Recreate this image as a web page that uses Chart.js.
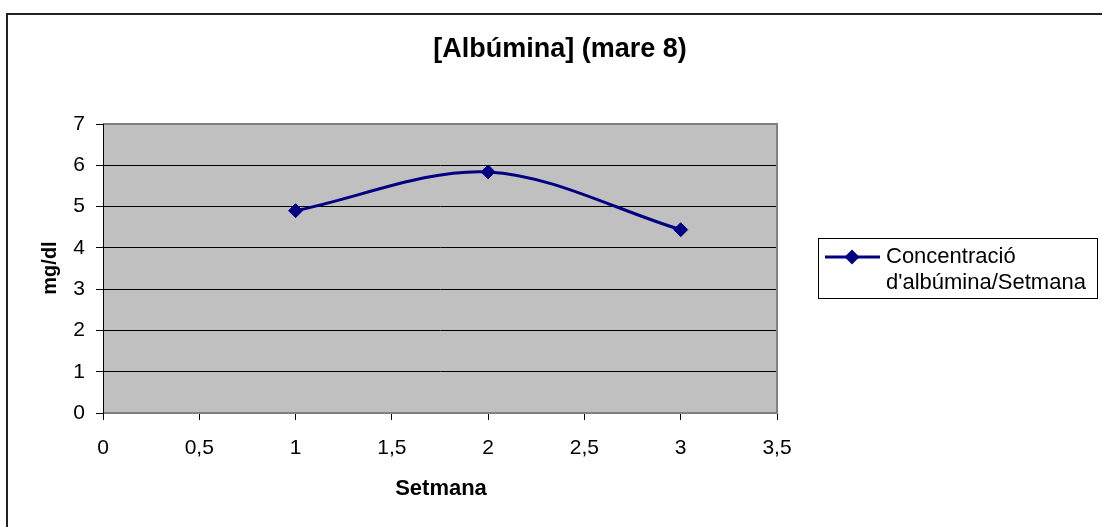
<!DOCTYPE html>
<html>
<head>
<meta charset="utf-8">
<script src="https://cdn.jsdelivr.net/npm/chart.js@4/dist/chart.umd.min.js"></script>
<style>
  html, body { margin: 0; padding: 0; background: #ffffff; }
  #wrap { width: 1102px; height: 527px; }
</style>
</head>
<body>
<div id="wrap"><canvas id="chart" width="1102" height="527"></canvas></div>
<script>
// Albumin concentration per week
const chartTitle = '[Albúmina] (mare 8)';
const seriesName = ['Concentració', "d'albúmina/Setmana"];
const xAxisTitle = 'Setmana';
const yAxisTitle = 'mg/dl';
const weeks = [1, 2, 3];
const albumin = [4.9, 5.84, 4.44];
const xRange = [0, 3.5];
const xStep = 0.5;
const yRange = [0, 7];
const yStep = 1;

const FONT = '"Liberation Sans", Arial, sans-serif';
const NAVY = '#000080';

const points = weeks.map((w, i) => ({ x: w, y: albumin[i] }));
const decimalComma = v => String(v).replace('.', ',');

// Gray plot background, plot frame, titles, legend and outer frame
const decor = {
  id: 'decor',
  beforeDraw(chart) {
    const { ctx, chartArea: a } = chart;
    ctx.save();
    ctx.fillStyle = '#ffffff';
    ctx.fillRect(0, 0, chart.width, chart.height);
    ctx.fillStyle = '#c0c0c0';
    ctx.fillRect(a.left, a.top, a.right - a.left, a.bottom - a.top);
    ctx.restore();
  },
  beforeDatasetsDraw(chart) {
    const { ctx, chartArea: a } = chart;
    ctx.save();
    ctx.strokeStyle = '#808080';
    ctx.lineWidth = 2;
    ctx.beginPath();
    ctx.moveTo(a.left, a.top);
    ctx.lineTo(a.right, a.top);
    ctx.lineTo(a.right, a.bottom);
    ctx.lineTo(a.left, a.bottom);
    ctx.stroke();
    ctx.strokeStyle = '#000000';
    ctx.lineWidth = 1;
    ctx.beginPath();
    ctx.moveTo(a.left + 0.5, a.top);
    ctx.lineTo(a.left + 0.5, a.bottom + 7);
    ctx.stroke();
    ctx.restore();
  },
  afterDraw(chart) {
    const { ctx } = chart;
    ctx.save();
    // outer frame
    ctx.strokeStyle = '#222222';
    ctx.lineWidth = 2;
    ctx.strokeRect(7, 14, 1200, 600);

    // chart title
    ctx.fillStyle = '#000000';
    ctx.textAlign = 'center';
    ctx.textBaseline = 'alphabetic';
    ctx.font = 'bold 27px ' + FONT;
    ctx.fillText(chartTitle, 560, 57);

    // axis titles
    ctx.font = 'bold 22px ' + FONT;
    ctx.fillText(xAxisTitle, 441, 495);
    ctx.save();
    ctx.translate(56, 268);
    ctx.rotate(-Math.PI / 2);
    ctx.font = 'bold 20px ' + FONT;
    ctx.fillText(yAxisTitle, 0, 0);
    ctx.restore();

    // legend
    ctx.strokeStyle = '#000000';
    ctx.lineWidth = 1;
    ctx.strokeRect(818.5, 238.5, 279, 60);
    ctx.strokeStyle = NAVY;
    ctx.lineWidth = 3;
    ctx.beginPath();
    ctx.moveTo(825, 257);
    ctx.lineTo(880, 257);
    ctx.stroke();
    ctx.fillStyle = NAVY;
    ctx.beginPath();
    ctx.moveTo(852, 249.5);
    ctx.lineTo(859.5, 257);
    ctx.lineTo(852, 264.5);
    ctx.lineTo(844.5, 257);
    ctx.closePath();
    ctx.fill();
    ctx.fillStyle = '#000000';
    ctx.textAlign = 'left';
    ctx.font = '22px ' + FONT;
    ctx.fillText(seriesName[0], 886, 263);
    ctx.fillText(seriesName[1], 886, 289);
    ctx.restore();
  }
};

new Chart(document.getElementById('chart'), {
  type: 'scatter',
  data: {
    datasets: [{
      label: seriesName.join(' '),
      data: points,
      showLine: true,
      tension: 0.33,
      borderColor: NAVY,
      borderWidth: 3,
      pointStyle: 'rectRot',
      pointRadius: 7,
      pointHoverRadius: 7,
      pointBackgroundColor: NAVY,
      pointBorderColor: NAVY,
      pointBorderWidth: 1
    }]
  },
  options: {
    responsive: false,
    animation: false,
    events: [],
    layout: { padding: { left: 0, top: 124, right: 325, bottom: 0 } },
    plugins: {
      legend: { display: false },
      title: { display: false },
      tooltip: { enabled: false }
    },
    scales: {
      x: {
        type: 'linear',
        min: xRange[0],
        max: xRange[1],
        afterFit(scale) { scale.height = 114; },
        ticks: {
          stepSize: xStep,
          color: '#000000',
          padding: 16,
          font: { family: FONT, size: 21 },
          maxRotation: 0,
          callback: v => decimalComma(v)
        },
        grid: {
          drawOnChartArea: false,
          drawTicks: true,
          tickLength: 7,
          color: '#000000',
          lineWidth: 1
        },
        border: { display: false }
      },
      y: {
        min: yRange[0],
        max: yRange[1],
        afterFit(scale) { scale.width = 103; },
        ticks: {
          stepSize: yStep,
          color: '#000000',
          padding: 11,
          font: { family: FONT, size: 21 },
          callback: v => decimalComma(v)
        },
        grid: {
          color: '#000000',
          lineWidth: 1,
          tickLength: 7
        },
        border: { display: true, color: '#000000', width: 1 }
      }
    }
  },
  plugins: [decor]
});
</script>
</body>
</html>
